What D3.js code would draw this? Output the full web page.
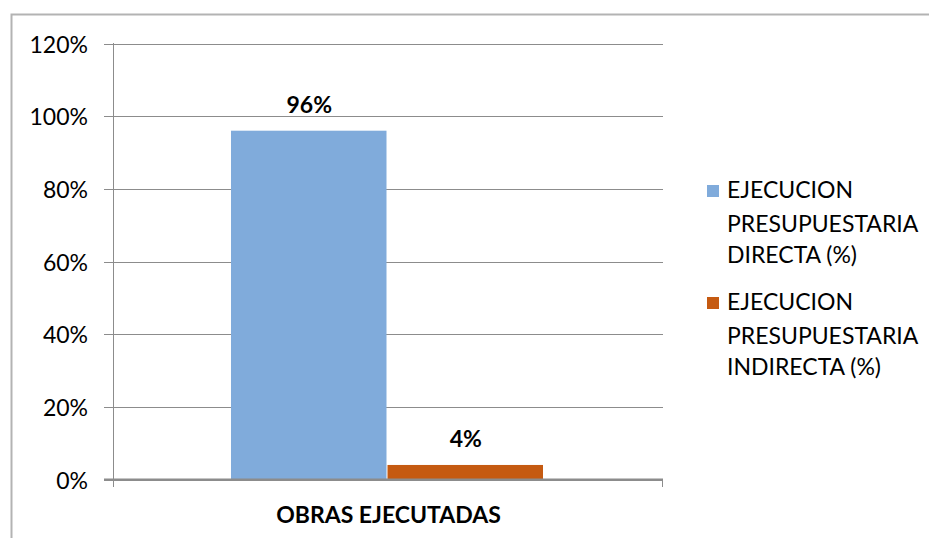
<!DOCTYPE html>
<html>
<head>
<meta charset="utf-8">
<script src="https://cdn.jsdelivr.net/npm/d3@7"></script>
<style>
  body { margin: 0; background: #fff; }
  svg text { font-family: Lato, "Open Sans", sans-serif; fill: #000; }
</style>
</head>
<body>
<svg width="929" height="538"></svg>
<script>
// chart data
let categories = ["OBRAS EJECUTADAS"];
let seriesNames = ["EJECUCION PRESUPUESTARIA DIRECTA (%)", "EJECUCION PRESUPUESTARIA INDIRECTA (%)"];
let legendLines = [["EJECUCION", "PRESUPUESTARIA", "DIRECTA (%)"], ["EJECUCION", "PRESUPUESTARIA", "INDIRECTA (%)"]];
let seriesValues = [0.96, 0.04];
let tickValues = [0, 0.2, 0.4, 0.6, 0.8, 1.0, 1.2];
let colors = ["#80abdb", "#c55a11"];

let svg = d3.select("svg");

// outer frame (cut off at the bottom and right in the original)
svg.append("path")
  .attr("d", "M11.5,538 V14.5 H929")
  .attr("fill", "none")
  .attr("stroke", "#b3b3b3")
  .attr("stroke-width", 2);

let y = d3.scaleLinear()
  .domain([0, 1.2])
  .range([479.5, 43.5]);

let x0 = d3.scaleBand()
  .domain(categories)
  .range([113, 662]);

let x1 = d3.scaleBand()
  .domain(seriesNames)
  .range([0, x0.bandwidth()])
  .paddingOuter(0.754);

let pct = d3.format(".0%");

// gridlines
svg.append("g")
  .selectAll("line")
  .data(tickValues)
  .enter().append("line")
    .attr("x1", 104)
    .attr("x2", 663)
    .attr("y1", d => Math.round(y(d)) + 0.5)
    .attr("y2", d => Math.round(y(d)) + 0.5)
    .attr("stroke", "#8c8c8c")
    .attr("stroke-width", 1);

// y tick labels
svg.append("g")
  .selectAll("text")
  .data(tickValues)
  .enter().append("text")
    .attr("x", 88)
    .attr("y", d => y(d) + 9)
    .attr("text-anchor", "end")
    .attr("font-size", 23)
    .text(d => pct(d));

// bars
let g = svg.append("g");
g.selectAll("rect")
  .data(seriesValues)
  .enter().append("rect")
    .attr("x", (d, i) => x0(categories[0]) + x1(seriesNames[i]))
    .attr("width", x1.bandwidth() - 1)
    .attr("y", d => y(d))
    .attr("height", d => y(0) - y(d))
    .attr("fill", (d, i) => colors[i]);

// value labels
g.selectAll("text")
  .data(seriesValues)
  .enter().append("text")
    .attr("x", (d, i) => x0(categories[0]) + x1(seriesNames[i]) + x1.bandwidth() / 2)
    .attr("y", d => y(d) - 18)
    .attr("text-anchor", "middle")
    .attr("font-size", 23)
    .attr("font-weight", "bold")
    .text(d => pct(d));

// axes
svg.append("line")
  .attr("x1", 113.5).attr("x2", 113.5)
  .attr("y1", 43).attr("y2", 487)
  .attr("stroke", "#8c8c8c");
svg.append("line")
  .attr("x1", 104).attr("x2", 663)
  .attr("y1", 479.5).attr("y2", 479.5)
  .attr("stroke", "#8c8c8c")
  .attr("stroke-width", 2);
svg.append("line")
  .attr("x1", 662.5).attr("x2", 662.5)
  .attr("y1", 479).attr("y2", 487)
  .attr("stroke", "#8c8c8c");

// category label
svg.append("g")
  .selectAll("text")
  .data(categories)
  .enter().append("text")
    .attr("x", d => x0(d) + x0.bandwidth() / 2 + 1)
    .attr("y", 523)
    .attr("text-anchor", "middle")
    .attr("font-size", 23)
    .attr("font-weight", "bold")
    .text(d => d);

// legend
let lineOffsets = [0, 34, 65];
let legend = svg.append("g")
  .selectAll("g")
  .data(seriesNames)
  .enter().append("g")
    .attr("transform", (d, i) => `translate(707,${185 + i * 112})`);

legend.append("rect")
  .attr("width", 12)
  .attr("height", 12)
  .attr("fill", (d, i) => colors[i]);

legend.each(function(d, i) {
  d3.select(this).selectAll("text")
    .data(legendLines[i])
    .enter().append("text")
      .attr("x", 20)
      .attr("y", (t, j) => 13 + lineOffsets[j])
      .attr("font-size", 23)
      .text(t => t);
});
</script>
</body>
</html>
